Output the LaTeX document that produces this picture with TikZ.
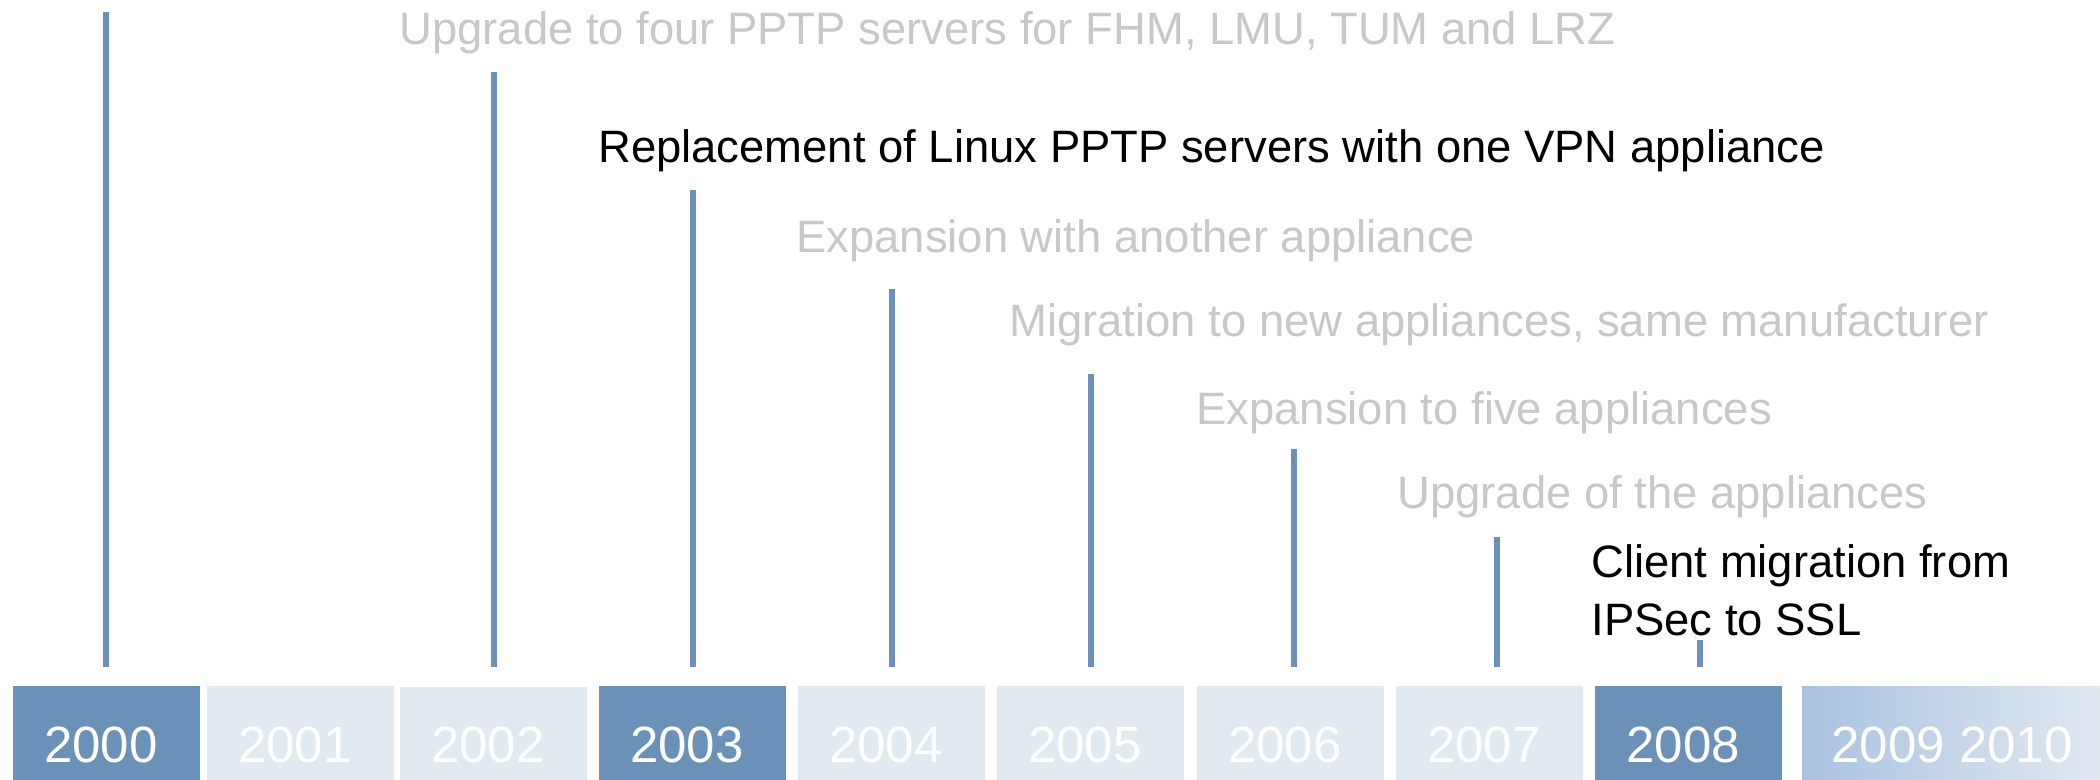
\documentclass[tikz,border=0pt]{standalone}
\usepackage{fontspec}
\setmainfont{Liberation Sans}
\definecolor{tlblue}{RGB}{107,145,185}
\definecolor{tllight}{RGB}{225,233,241}
\definecolor{tlgrad}{RGB}{169,194,224}
\definecolor{tlgray}{RGB}{200,200,200}
\begin{document}
\begin{tikzpicture}[x=0.5pt,y=-0.5pt,
  stem/.style={draw=tlblue,line width=3.25pt},
  evlabel/.style={anchor=base west,inner sep=0pt,font=\fontsize{22.7}{27}\selectfont},
  pastlabel/.style={evlabel,text=tlgray},
  keylabel/.style={evlabel,text=black},
  yearlabel/.style={anchor=base,inner sep=0pt,text=white,font=\fontsize{25.5}{30}\selectfont},
  darkbox/.style={fill=tlblue},
  lightbox/.style={fill=tllight}]
\useasboundingbox (0,0) rectangle (2100,780);
\fill[white] (0,0) rectangle (2100,780);

% year boxes
\fill[darkbox]  (13,686) rectangle (200,780);
\fill[lightbox] (207,686) rectangle (394,780);
\fill[lightbox] (400,687) rectangle (587,780);
\fill[darkbox]  (599,686) rectangle (786,780);
\fill[lightbox] (798,686) rectangle (985,780);
\fill[lightbox] (997,686) rectangle (1184,780);
\fill[lightbox] (1197,686) rectangle (1384,780);
\fill[lightbox] (1396,686) rectangle (1583,780);
\fill[darkbox]  (1595,686) rectangle (1782,780);
\shade[left color=tlgrad,right color=tllight] (1802,686) rectangle (2100,780);

\node[yearlabel] (y2000) at (101,762) {2000};
\node[yearlabel] (y2001) at (295,762) {2001};
\node[yearlabel] (y2002) at (488,762) {2002};
\node[yearlabel] (y2003) at (687,762) {2003};
\node[yearlabel] (y2004) at (886,762) {2004};
\node[yearlabel] (y2005) at (1085,762) {2005};
\node[yearlabel] (y2006) at (1285,762) {2006};
\node[yearlabel] (y2007) at (1484,762) {2007};
\node[yearlabel] (y2008) at (1683,762) {2008};
\node[yearlabel] (y2009) at (1952,762) {2009 2010};

% stems
\coordinate (s0b) at (106,667);  \coordinate (s0t) at (106,12);
\coordinate (s2b) at (494,667);  \coordinate (s2t) at (494,72);
\coordinate (s3b) at (693,667);  \coordinate (s3t) at (693,190);
\coordinate (s4b) at (892,667);  \coordinate (s4t) at (892,289);
\coordinate (s5b) at (1091,667); \coordinate (s5t) at (1091,374);
\coordinate (s6b) at (1294,667); \coordinate (s6t) at (1294,449);
\coordinate (s7b) at (1497,667); \coordinate (s7t) at (1497,537);
\coordinate (s8b) at (1700,667); \coordinate (s8t) at (1700,640);
\draw[stem] (s0b) -- (s0t);
\draw[stem] (s2b) -- (s2t);
\draw[stem] (s3b) -- (s3t);
\draw[stem] (s4b) -- (s4t);
\draw[stem] (s5b) -- (s5t);
\draw[stem] (s6b) -- (s6t);
\draw[stem] (s7b) -- (s7t);
\draw[stem] (s8b) -- (s8t);

% event labels
\node[pastlabel] (e2002) at (399,45) {Upgrade to four PPTP servers for FHM, LMU, TUM and LRZ};
\node[keylabel]  (e2003) at (598,163) {Replacement of Linux PPTP servers with one VPN appliance};
\node[pastlabel] (e2004) at (796,253) {Expansion with another appliance};
\node[pastlabel] (e2005) at (1009,337) {Migration to new appliances, same manufacturer};
\node[pastlabel] (e2006) at (1196,425) {Expansion to five appliances};
\node[pastlabel] (e2007) at (1397,509) {Upgrade of the appliances};
\node[keylabel]  (e2008a) at (1591,577) {Client migration from};
\node[keylabel]  (e2008b) at (1591,635) {IPSec to SSL};
\end{tikzpicture}
\end{document}
